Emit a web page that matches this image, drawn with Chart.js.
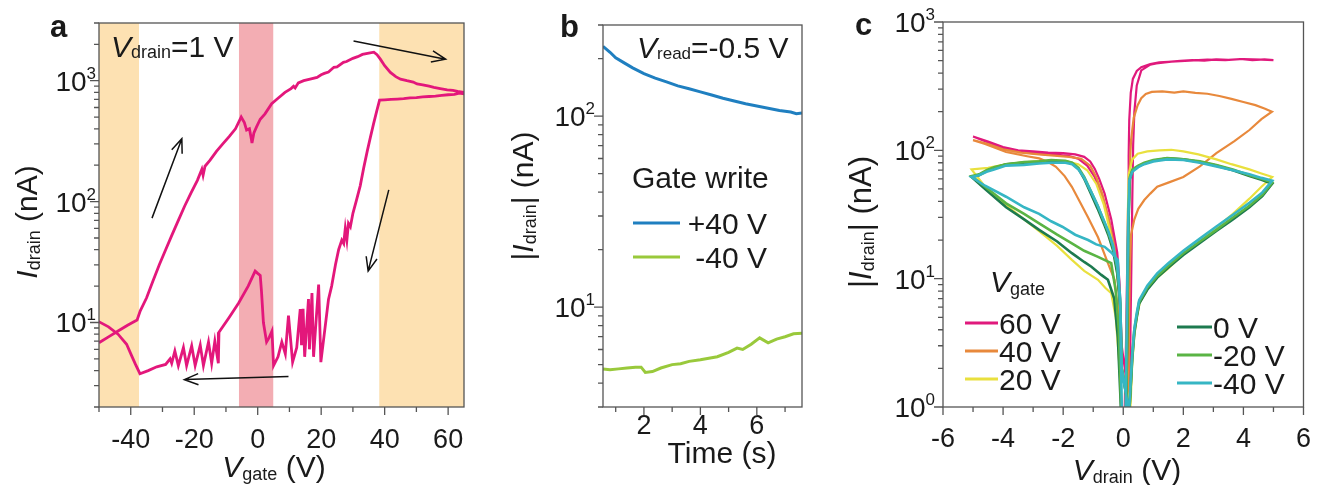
<!DOCTYPE html>
<html>
<head>
<meta charset="utf-8">
<script src="https://cdn.jsdelivr.net/npm/chart.js@4.4.1/dist/chart.umd.min.js"></script>
<style>
  body { margin: 0; background: #fff; width: 1319px; height: 485px; position: relative; overflow: hidden; }
  canvas { position: absolute; top: 0; }
</style>
</head>
<body>
<canvas id="chartA" width="480" height="485" style="left:0"></canvas>
<canvas id="chartB" width="340" height="485" style="left:480px"></canvas>
<canvas id="chartC" width="499" height="485" style="left:820px"></canvas>
<script>
// ── Panel a: transfer curve, one sweep forward then back ──────────────────
const aGateV = [
  -50, -47, -44, -41, -38, -37, -35, -33, -31, -29, -27, -25, -23, -21, -19, -17.6, -17.2, -16.6,
  -15, -13, -11, -9, -7, -5.2, -4.2, -3.5, -2.6, -2, -1.8, -1.2, -0.4, 0.8, 2.3, 4.4, 6.5, 8.6,
  10.5, 11.3, 11.8, 12.8, 14.5, 16.5, 18.7, 20, 21, 22.3, 24, 25, 27, 28, 30, 31.5, 33, 35, 36.6,
  37.6, 38.7, 40, 41.8, 43.5, 45, 47, 49, 50.2, 52, 54, 55.5, 57.5, 59.7, 61.5, 63, 64.9,
  65, 63.5, 62, 60, 58, 56, 54, 52, 50, 48, 46, 44, 42, 40, 38.4, 37.5, 36.5, 35.5, 34.5, 33.4,
  32.3, 31, 30, 29.2, 28.6, 28.1, 27.6, 27.1, 26.5, 25.5, 24.5, 23.3, 22.3, 19.9, 19.2, 17.6,
  17.1, 16.3, 16, 14.8, 14.3, 13.8, 13.4, 12.3, 11, 9.7, 8.7, 7.6, 6.4, 5, 4.5, 3.6, 2.8, 1.8,
  1.2, 0.8, 0, -0.8, -3, -6, -9, -12.2, -12.4, -13.5, -14.5, -15.5, -17.1, -18.1, -19.7, -20.8,
  -22.4, -23.4, -25, -26.1, -27.1, -27.6, -29, -31.8, -34.5, -37.1, -38.5, -39.7, -41.3, -44, -47, -50.5
];
const aDrainI = [
  6.8, 7.6, 8.5, 9.5, 10.5, 12.5, 16, 22, 30, 40, 53, 70, 92, 118, 150, 185, 165, 196,
  220, 260, 300, 345, 400, 500, 450, 390, 400, 330, 305, 370, 413, 480, 532, 645, 720, 800,
  860, 900, 870, 960, 1000, 1030, 1065, 1120, 1150, 1180, 1290, 1300, 1420, 1440, 1530, 1580, 1650, 1690, 1720,
  1640, 1500, 1330, 1170, 1080, 1030, 1000, 975, 940, 925, 900, 880, 860, 838, 830, 815, 800,
  780, 790, 770, 765, 755, 745, 740, 735, 725, 720, 710, 705, 700, 695, 690, 560, 440, 340, 260, 190,
  135, 100, 80, 62, 66, 48, 60, 45, 48, 40, 30, 20, 15.5, 4.7, 20.6, 5.2,
  17.5, 6, 15.6, 5.2, 13, 6.5, 12.9, 6.2, 4.7, 11.4, 5.5, 6.9, 5.2, 4.4, 8.5, 7.5, 6.9, 10,
  18, 24.5, 25.5, 26.6, 20, 14.5, 11, 8.3, 4.6, 7, 4.6, 6.9, 4.4, 6.5, 4.4, 6.4,
  4.4, 6.2, 4.4, 5.8, 4.6, 5.0, 4.5, 4.3, 4.0, 3.77, 4.5, 5.3, 6.6, 8.0, 9.2, 10.3
];
const aXTicks    = [-50, -40, -30, -20, -10, 0, 10, 20, 30, 40, 50, 60];
const aXLabelled = [-40, -20, 0, 20, 40, 60];
const aYTicks    = [2, 3, 4, 5, 6, 7, 8, 9, 10, 20, 30, 40, 50, 60, 70, 80, 90,
                    100, 200, 300, 400, 500, 600, 700, 800, 900, 1000, 2000, 3000];
const aYLabelled = [10, 100, 1000];
// shaded gate-voltage windows (V)
const aBandFrom  = [-50, -5.9, 38.3];
const aBandTo    = [-37.4, 4.9, 65];
// sweep-direction arrows, tail -> head, in data units
const aArrowX0 = [-33.3, 30.2, 41.3, 9.7];
const aArrowY0 = [73, 2130, 125, 3.58];
const aArrowX1 = [-23.9, 59.2, 34.8, -23.1];
const aArrowY1 = [331, 1507, 26.6, 3.37];

// ── Panel b: retention after gate write ───────────────────────────────────
const bTime    = [0.55, 0.8, 1.0, 1.3, 1.6, 2.0, 2.4, 2.8, 3.2, 3.6, 4.0, 4.4, 4.8, 5.2, 5.6, 6.0, 6.4, 6.8, 7.2, 7.4, 7.6];
const bPlus40  = [232, 216, 202, 190, 179, 167, 158, 151, 144, 139, 134, 129, 124, 120, 116, 113, 110, 107, 105, 103, 104];
const bTime2   = [0.55, 0.8, 1.1, 1.4, 1.7, 1.9, 2.05, 2.3, 2.6, 3.0, 3.3, 3.6, 4.0, 4.3, 4.6, 5.0, 5.3, 5.5, 5.8, 6.1, 6.4, 6.7, 7.0, 7.3, 7.6];
const bMinus40 = [4.75, 4.7, 4.75, 4.8, 4.85, 4.85, 4.55, 4.6, 4.8, 5.0, 5.05, 5.2, 5.3, 5.4, 5.5, 5.8, 6.1, 6.0, 6.4, 6.9, 6.5, 6.8, 7.0, 7.25, 7.3];
const bLabels  = ['+40 V', '-40 V'];
const bXTicks    = [1, 2, 3, 4, 5, 6, 7];
const bXLabelled = [2, 4, 6];
const bYTicks    = [3, 4, 5, 6, 7, 8, 9, 10, 20, 30, 40, 50, 60, 70, 80, 90, 100, 200, 300];
const bYLabelled = [10, 100];

// ── Panel c: output curves for each gate voltage ──────────────────────────
const cLabels = ['60 V', '40 V', '20 V', '0 V', '-20 V', '-40 V'];
const cV60 = [0.05, 0.1, 0.13, 0.16, 0.18, 0.2, 0.25, 0.32, 0.45, 0.6, 0.9, 1.2, 1.5, 1.9, 2.3, 2.7, 3.1, 3.5, 3.9, 4.3, 4.7, 5.0,
  4.6, 4.0, 3.4, 2.8, 2.2, 1.6, 1.1, 0.9, 0.6, 0.45, 0.37, 0.33, 0.3, 0.27, 0.24, 0.22,
  -0.05, -0.12, -0.2, -0.4, -0.62, -0.8, -0.95, -1.1, -1.3, -1.6, -2.0, -2.5, -3.0, -3.5, -4.0, -4.5, -5.0,
  -4.6, -4.0, -3.4, -2.8, -2.2, -1.8, -1.5, -1.2, -0.95, -0.7, -0.5, -0.3, -0.15, -0.05];
const cI60 = [1, 4, 12, 35, 90, 172, 280, 360, 415, 445, 470, 485, 490, 497, 505, 500, 512, 508, 515, 505, 512, 505,
  510, 515, 505, 510, 500, 490, 475, 465, 420, 320, 200, 110, 40, 12, 4, 1,
  3, 9, 16, 29, 46, 60, 72, 82, 89, 93, 95, 96, 98, 100, 106, 117, 128,
  118, 104, 97, 94, 92, 90, 86, 76, 62, 44, 30, 18, 9, 2];
const cV40 = [0.08, 0.12, 0.16, 0.2, 0.26, 0.35, 0.48, 0.6, 0.75, 0.95, 1.3, 1.7, 2.0, 2.4, 2.8, 3.2, 3.6, 4.0, 4.4, 4.7, 4.95,
  4.6, 4.2, 3.7, 3.1, 2.55, 2.0, 1.5, 1.13, 0.9, 0.7, 0.5, 0.37, 0.26, 0.22, 0.19, 0.17,
  -0.05, -0.15, -0.3, -0.5, -0.7, -0.9, -1.1, -1.4, -1.8, -2.3, -2.8, -3.4, -4.0, -4.5, -5.0,
  -4.6, -3.9, -3.2, -2.8, -2.5, -2.24, -1.95, -1.71, -1.45, -1.17, -0.84, -0.51, -0.29, -0.15, -0.08];
const cI40 = [1, 5, 20, 60, 120, 180, 225, 255, 275, 285, 288, 282, 288, 280, 276, 265, 252, 238, 225, 212, 200,
  175, 144, 118, 95, 75, 62, 56, 52, 46, 41, 35, 29, 22, 12, 4, 1,
  2, 9, 18, 30, 46, 62, 76, 86, 89, 91, 93, 96, 102, 112, 120,
  112, 97, 90, 86.5, 81, 74.5, 63, 52, 40, 30, 21, 13.2, 9.8, 5, 1.5];
const cV20 = [0.1, 0.13, 0.15, 0.18, 0.3, 0.48, 0.8, 1.2, 1.6, 2.0, 2.5, 3.1, 3.6, 4.2, 4.6, 4.96,
  4.6, 4.2, 3.65, 3.1, 2.55, 2.0, 1.5, 1.13, 0.8, 0.55, 0.45, 0.37, 0.3, 0.24,
  -0.05, -0.12, -0.25, -0.45, -0.65, -0.9, -1.2, -1.5, -1.9, -2.4, -2.9, -3.5, -4.0, -4.5, -5.05,
  -4.6, -3.9, -3.3, -2.8, -2.2, -1.71, -1.3, -0.84, -0.6, -0.4, -0.25, -0.12, -0.05];
const cI20 = [1, 6, 30, 65, 85, 94, 98, 100, 101, 98, 93, 85, 78, 71, 66, 62,
  52, 42, 32, 25, 19.5, 15.5, 12, 10.2, 8.3, 6.5, 5, 3.6, 2.2, 1,
  2, 7, 14, 24, 38, 55, 70, 78, 82, 83, 82, 80, 77, 73, 71,
  52, 37.5, 29, 23.5, 18, 14, 11.5, 9.8, 8.5, 7.7, 5, 2, 1];
const cV0 = [0.1, 0.14, 0.17, 0.22, 0.31, 0.5, 0.7, 1.0, 1.46, 2.0, 2.55, 3.1, 3.65, 4.2, 4.6, 4.96,
  4.63, 4.2, 3.65, 3.1, 2.55, 2.0, 1.5, 1.13, 0.8, 0.53, 0.45, 0.37, 0.3, 0.26, 0.2,
  -0.05, -0.1, -0.2, -0.35, -0.5, -0.62, -0.85, -1.06, -1.3, -1.49, -1.7, -1.93, -2.4, -2.8, -3.3, -3.9, -4.3, -4.55, -4.8, -5.05,
  -4.6, -3.9, -3.3, -2.8, -2.2, -1.71, -1.3, -1.06, -0.73, -0.51, -0.3, -0.18, -0.08];
const cI0 = [1, 5, 25, 60, 70, 75, 79, 83, 86.5, 85, 81, 76, 70, 63, 59, 55,
  44, 36, 29, 23.5, 19, 15.3, 12.2, 10.2, 8.2, 6.4, 5, 3.8, 2.4, 1.6, 0.9,
  2, 6, 11, 17, 22, 26, 35, 45, 60, 72, 79, 82, 82, 81, 80, 78, 73, 69, 64, 62,
  50, 36, 29, 24, 19.5, 15.8, 13.5, 12.4, 10.7, 9.8, 7, 3.5, 1];
const cVm20 = [0.1, 0.14, 0.17, 0.22, 0.31, 0.5, 0.7, 1.0, 1.46, 2.0, 2.55, 3.1, 3.65, 4.2, 4.6, 4.96,
  4.63, 4.2, 3.65, 3.1, 2.55, 2.0, 1.5, 1.13, 0.8, 0.53, 0.45, 0.37, 0.3, 0.25, 0.2,
  -0.05, -0.1, -0.2, -0.35, -0.5, -0.62, -0.85, -1.06, -1.3, -1.49, -1.7, -1.93, -2.4, -2.8, -3.3, -3.9, -4.3, -4.55, -4.8, -5.05,
  -4.6, -3.9, -3.3, -2.8, -2.2, -1.71, -1.3, -0.84, -0.4, -0.25, -0.15, -0.07];
const cIm20 = [1, 5, 28, 62, 71, 76, 80, 84, 87, 85, 82, 77, 71, 64, 60, 56,
  45, 37, 30, 24, 19.5, 15.8, 12.6, 10.5, 8.5, 6.6, 5.2, 4, 2.5, 1.5, 0.9,
  2, 6.5, 12, 18, 23, 27, 37, 47, 62, 73, 80, 83, 84, 82, 81, 78, 74, 70, 65, 63,
  52, 38.6, 32, 27, 22, 18.8, 16.5, 14.8, 13.2, 8, 4, 1];
const cVm40 = [0.08, 0.12, 0.16, 0.2, 0.3, 0.5, 0.7, 1.0, 1.46, 2.0, 2.55, 3.1, 3.65, 4.2, 4.6, 4.96,
  4.63, 4.2, 3.65, 3.1, 2.55, 2.0, 1.5, 1.13, 0.8, 0.53, 0.45, 0.37, 0.3, 0.24, 0.19,
  -0.05, -0.1, -0.2, -0.35, -0.5, -0.62, -0.85, -1.06, -1.3, -1.49, -1.7, -1.93, -2.4, -2.8, -3.3, -3.9, -4.3, -4.55, -4.8, -5.05,
  -4.6, -3.9, -3.3, -2.8, -2.4, -2.03, -1.6, -1.17, -0.9, -0.62, -0.4, -0.18, -0.1, -0.05];
const cIm40 = [1, 5, 25, 58, 68, 74, 78, 82, 85, 84, 80, 75, 70, 65, 61, 58,
  47, 39, 31.5, 25.5, 20.5, 16.5, 13.2, 11, 8.8, 6.8, 5.4, 4.1, 2.6, 1.5, 0.9,
  2, 7, 12.5, 18.5, 23.5, 27.5, 37, 47, 61, 71, 78, 80, 80, 79, 77, 76, 71, 68, 64, 62,
  53, 43.5, 36, 32, 28, 25.4, 22, 20, 18.5, 17.7, 16, 14, 6, 1];
const cXTicks    = [-6, -5, -4, -3, -2, -1, 0, 1, 2, 3, 4, 5, 6];
const cXLabelled = [-6, -4, -2, 0, 2, 4, 6];
const cYTicks    = [1, 2, 3, 4, 5, 6, 7, 8, 9, 10, 20, 30, 40, 50, 60, 70, 80, 90,
                    100, 200, 300, 400, 500, 600, 700, 800, 900, 1000];
const cYLabelled = [1, 10, 100, 1000];

// ── Styling ───────────────────────────────────────────────────────────────
const FONT  = '"Liberation Sans", Arial, sans-serif';
const INK   = '#1a1a1a';
const FRAME = '#555';
const MAGENTA = '#e3177b';
const C_COLORS = ['#e0197c', '#e8893c', '#e9e03e', '#1d7a4f', '#5ab444', '#36b6c4'];

// text part: [text, size, italic?, bold?, dy]
const T = (t, s, o = {}) => Object.assign({ t, s }, o);
function fnt(p) { return (p.i ? 'italic ' : '') + (p.b ? 'bold ' : '') + p.s + 'px ' + FONT; }

// Draw a run of differently sized text pieces (subscripts, superscripts)
function rich(ctx, parts, x, y, align = 'left', rot = false) {
  let w = 0;
  for (const p of parts) { ctx.font = fnt(p); p.w = ctx.measureText(p.t).width; w += p.w; }
  ctx.save();
  ctx.translate(x, y);
  if (rot) ctx.rotate(-Math.PI / 2);
  let cx = align === 'center' ? -w / 2 : align === 'right' ? -w : 0;
  ctx.fillStyle = INK;
  ctx.textAlign = 'left';
  ctx.textBaseline = 'alphabetic';
  for (const p of parts) { ctx.font = fnt(p); ctx.fillText(p.t, cx, p.dy || 0); cx += p.w; }
  ctx.restore();
}

function arrow(ctx, x0, y0, x1, y1) {
  const ang = Math.atan2(y1 - y0, x1 - x0), L = 15, spread = 0.38;
  ctx.beginPath();
  ctx.moveTo(x0, y0); ctx.lineTo(x1, y1);
  ctx.moveTo(x1 - L * Math.cos(ang - spread), y1 - L * Math.sin(ang - spread));
  ctx.lineTo(x1, y1);
  ctx.lineTo(x1 - L * Math.cos(ang + spread), y1 - L * Math.sin(ang + spread));
  ctx.stroke();
}

const toXY = (xs, ys) => xs.map((v, i) => ({ x: v, y: ys[i] }));
const line = (data, color, width) => ({
  data, borderColor: color, borderWidth: width, showLine: true,
  pointRadius: 0, tension: 0, fill: false
});

// Frame, outward ticks, 10^n labels, then whatever the panel adds
function panelPlugin(xs, ys, box, extra) {
  return {
    id: 'panel',
    beforeDatasetsDraw(chart) {
      if (box.under) box.under(chart.ctx, chart);
    },
    afterDatasetsDraw(chart) {
      const ctx = chart.ctx, a = chart.chartArea, sx = chart.scales.x, sy = chart.scales.y;
      ctx.save();
      ctx.strokeStyle = FRAME;
      ctx.lineWidth = 1.3;
      ctx.strokeRect(a.left, a.top, a.right - a.left, a.bottom - a.top);
      ctx.beginPath();
      for (const v of xs.ticks) {
        const px = sx.getPixelForValue(v), L = xs.labelled.includes(v) ? 8 : 5;
        ctx.moveTo(px, a.bottom); ctx.lineTo(px, a.bottom + L);
      }
      for (const v of ys.ticks) {
        const py = sy.getPixelForValue(v), L = ys.labelled.includes(v) ? 9 : 5;
        ctx.moveTo(a.left, py); ctx.lineTo(a.left - L, py);
      }
      ctx.stroke();
      for (const v of ys.labelled) {
        const py = sy.getPixelForValue(v);
        rich(ctx, [T('10', 28), T(String(Math.round(Math.log10(v))), 17, { dy: -12 })],
             a.left - box.ylabGap, py + 10, 'right');
      }
      ctx.restore();
      extra(ctx, chart);
    }
  };
}

function makeChart(id, datasets, xs, ys, box, extra) {
  return new Chart(document.getElementById(id), {
    type: 'scatter',
    data: { datasets },
    options: {
      responsive: false, animation: false, devicePixelRatio: 1, events: [],
      layout: { padding: { left: 0, right: box.right, top: box.top, bottom: 0 } },
      plugins: { legend: { display: false }, tooltip: { enabled: false } },
      scales: {
        x: {
          type: 'linear', min: xs.min, max: xs.max,
          grid: { display: false }, border: { display: false },
          afterBuildTicks: s => { s.ticks = xs.ticks.map(v => ({ value: v })); },
          afterFit: s => { s.height = 78; },
          ticks: {
            autoSkip: false, maxRotation: 0, padding: box.xpad, color: INK,
            font: { family: FONT, size: 27 },
            callback: v => xs.labelled.includes(v) ? String(v) : ''
          }
        },
        y: {
          type: 'logarithmic', min: ys.min, max: ys.max,
          grid: { display: false }, border: { display: false },
          afterBuildTicks: s => { s.ticks = ys.ticks.map(v => ({ value: v })); },
          afterFit: s => { s.width = box.yw; },
          ticks: { display: false }
        }
      }
    },
    plugins: [panelPlugin(xs, ys, box, extra)]
  });
}

// ── Panel a ───────────────────────────────────────────────────────────────
makeChart('chartA',
  [line(toXY(aGateV, aDrainI), MAGENTA, 2.8)],
  { min: -50, max: 65, ticks: aXTicks, labelled: aXLabelled },
  { min: 2, max: 3000, ticks: aYTicks, labelled: aYLabelled },
  {
    yw: 99, right: 16, top: 23, xpad: 9, ylabGap: 3,
    under(ctx, chart) {
      const a = chart.chartArea, sx = chart.scales.x;
      const fills = ['#fde1b2', '#f3adb3', '#fde1b2'];
      aBandFrom.forEach((v, i) => {
        const x0 = sx.getPixelForValue(v), x1 = sx.getPixelForValue(aBandTo[i]);
        ctx.fillStyle = fills[i];
        ctx.fillRect(x0, a.top, x1 - x0, a.bottom - a.top);
      });
    }
  },
  (ctx, chart) => {
    const sx = chart.scales.x, sy = chart.scales.y;
    ctx.save();
    ctx.strokeStyle = '#111';
    ctx.lineWidth = 1.5;
    aArrowX0.forEach((v, i) => arrow(ctx,
      sx.getPixelForValue(v), sy.getPixelForValue(aArrowY0[i]),
      sx.getPixelForValue(aArrowX1[i]), sy.getPixelForValue(aArrowY1[i])));
    ctx.restore();
    rich(ctx, [T('a', 31, { b: true })], 50, 37);
    rich(ctx, [T('V', 30, { i: true }), T('drain', 18, { dy: 1 }), T('=1 V', 30)], 111, 57);
    rich(ctx, [T('I', 30, { i: true }), T('drain', 18, { dy: 3 }), T(' (nA)', 30)], 37, 222, 'center', true);
    rich(ctx, [T('V', 30, { i: true }), T('gate', 18, { dy: 3 }), T(' (V)', 30)], 274, 477, 'center');
  });

// ── Panel b ───────────────────────────────────────────────────────────────
const bColors = ['#1f7fc0', '#99c93b'];
makeChart('chartB',
  [line(toXY(bTime, bPlus40), bColors[0], 3), line(toXY(bTime2, bMinus40), bColors[1], 3)],
  { min: 0.55, max: 7.6, ticks: bXTicks, labelled: bXLabelled },
  { min: 3, max: 300, ticks: bYTicks, labelled: bYLabelled },
  { yw: 123, right: 18, top: 25, xpad: -5, ylabGap: 8 },
  (ctx) => {
    rich(ctx, [T('b', 31, { b: true })], 80, 37);
    rich(ctx, [T('V', 30, { i: true }), T('read', 17, { dy: 1 }), T('=-0.5 V', 30)], 157, 58);
    rich(ctx, [T('|', 30), T('I', 30, { i: true }), T('drain', 18, { dy: 3 }), T('| (nA)', 30)], 53, 196, 'center', true);
    rich(ctx, [T('Time (s)', 30)], 242, 463, 'center');
    rich(ctx, [T('Gate write', 30)], 152, 188);
    const ys = [223, 257];
    ctx.save();
    ctx.lineWidth = 3;
    bLabels.forEach((lab, i) => {
      ctx.strokeStyle = bColors[i];
      ctx.beginPath(); ctx.moveTo(153, ys[i]); ctx.lineTo(200, ys[i]); ctx.stroke();
      rich(ctx, [T(lab, 30)], 287, ys[i] + 11, 'right');
    });
    ctx.restore();
  });

// ── Panel c ───────────────────────────────────────────────────────────────
const cSeries = [[cV60, cI60], [cV40, cI40], [cV20, cI20], [cV0, cI0], [cVm20, cIm20], [cVm40, cIm40]];
makeChart('chartC',
  cSeries.map(([v, i], k) => Object.assign(line(toXY(v, i), C_COLORS[k], k < 3 ? 2.2 : 2.6), { order: 6 - k })),
  { min: -6, max: 6, ticks: cXTicks, labelled: cXLabelled },
  { min: 1, max: 1000, ticks: cYTicks, labelled: cYLabelled },
  { yw: 123, right: 11, top: 22, xpad: 8, ylabGap: 8 },
  (ctx) => {
    rich(ctx, [T('c', 31, { b: true })], 35, 35);
    rich(ctx, [T('|', 31), T('I', 31, { i: true }), T('drain', 18, { dy: 3 }), T('| (nA)', 31)], 51, 222, 'center', true);
    rich(ctx, [T('V', 30, { i: true }), T('drain', 18, { dy: 3 }), T(' (V)', 30)], 307, 480, 'center');
    rich(ctx, [T('V', 30, { i: true }), T('gate', 18, { dy: 3 })], 170, 292);
    const rows = [323, 351, 379], rowsR = [327, 355, 383];
    ctx.save();
    ctx.lineWidth = 3;
    cLabels.forEach((lab, k) => {
      const left = k < 3, y = left ? rows[k] : rowsR[k - 3];
      const x0 = left ? 145 : 357, x1 = left ? 178 : 392;
      ctx.strokeStyle = C_COLORS[k];
      ctx.beginPath(); ctx.moveTo(x0, y); ctx.lineTo(x1, y); ctx.stroke();
      rich(ctx, [T(lab, 30)], x1 + 1, y + 11);
    });
    ctx.restore();
  });
</script>
</body>
</html>
